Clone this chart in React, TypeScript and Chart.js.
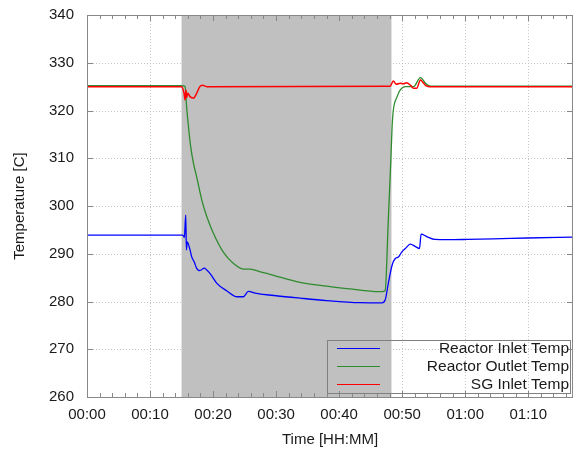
import React, { useEffect, useRef } from 'react';
import { Chart, registerables } from 'chart.js';

Chart.register(...registerables);

// Time in minutes
const inletTime = [0, 15.0, 15.2, 15.45, 15.66, 15.77, 15.9, 16.35, 16.6, 17.0, 17.4, 17.9, 18.6, 19.0, 19.5, 20.6, 22.2, 23.8, 24.8, 25.6, 26.9, 30, 33.8, 38, 43.3, 46.8, 47.3, 47.8, 48.4, 48.9, 49.4, 49.95, 50.5, 51.3, 52.1, 52.75, 53.0, 53.9, 55.2, 57.1, 60.3, 64.4, 69.8, 77.1];
const inletTemp = [293.9, 293.9, 293.9, 293.4, 298.1, 290.8, 292.5, 290.8, 289.4, 288.3, 286.95, 286.45, 287.0, 286.6, 285.9, 283.8, 282.2, 281.0, 281.0, 282.1, 281.7, 281.2, 280.7, 280.2, 279.75, 279.7, 280.3, 283.8, 287.6, 289.0, 289.3, 290.4, 291.1, 292.0, 291.5, 291.1, 294.1, 293.6, 293.0, 292.95, 293.0, 293.1, 293.3, 293.5];

const outletTime = [0, 15.0, 15.56, 15.8, 16.1, 16.45, 16.9, 17.4, 18.2, 19.0, 20.05, 21.6, 23.2, 24.8, 25.9, 27.5, 29.0, 33.8, 38, 43.3, 46.8, 47.3, 47.8, 48.2, 48.4, 48.6, 49.2, 49.7, 50.5, 51.8, 52.9, 53.7, 54.4, 60, 77.1];
const outletTemp = [325.2, 325.2, 325.0, 320.8, 316.6, 312.4, 308.9, 306.1, 301.3, 297.8, 294.3, 290.4, 288.0, 286.8, 286.8, 286.2, 285.7, 284.0, 283.2, 282.4, 282.05, 282.3, 297.1, 309.6, 316.6, 320.1, 322.9, 324.3, 325.0, 325.0, 326.9, 325.7, 325.1, 325.1, 325.1];

const sgTime = [0, 15.0, 15.4, 15.56, 15.7, 15.8, 16.0, 16.35, 16.9, 17.4, 17.9, 18.3, 19.0, 48.1, 48.6, 49.05, 49.7, 50.2, 50.7, 51.3, 51.8, 52.3, 52.9, 53.4, 53.9, 54.4, 77.1];
const sgTemp = [325, 325, 323.6, 322.2, 324.3, 322.7, 323.6, 322.9, 322.6, 323.6, 325.0, 325.3, 325.0, 325.1, 326.2, 325.5, 325.7, 325.6, 325.8, 325.3, 324.65, 324.65, 326.4, 325.7, 325.1, 325.0, 325.0];

const seriesLabels = ['Reactor Inlet Temp', 'Reactor Outlet Temp', 'SG Inlet Temp'];
const seriesColors = ['#0000ff', '#2e8b2e', '#ff0000'];

const X_MIN = 0;
const X_MAX = 77.1;
const Y_MIN = 260;
const Y_MAX = 340;
const Y_STEP = 10;
const X_MAJOR = 10;
const X_MINOR = 2;
const SHADE_START = 15;
const SHADE_END = 48.3;

const FONT = '"Liberation Sans", Arial, sans-serif';
const TEXT = '#1a1a1a';
const GRID = '#c4c4c4';

function pad2(n: number) {
  return (n < 10 ? '0' : '') + n;
}
function fmtTime(v: number) {
  const h = Math.floor(v / 60);
  const m = Math.round(v - h * 60);
  return pad2(h) + ':' + pad2(m);
}

function toPoints(t: number[], y: number[]) {
  return t.map((x, i) => ({ x, y: y[i] }));
}

const decorPlugin = {
  id: 'decor',
  beforeDatasetsDraw(chart: any) {
    const { ctx, chartArea } = chart;
    const { left, right, top, bottom } = chartArea;
    const xs = chart.scales.x;
    const ys = chart.scales.y;
    ctx.save();
    // dotted grid
    ctx.strokeStyle = GRID;
    ctx.lineWidth = 1;
    ctx.setLineDash([1, 2]);
    ctx.beginPath();
    xs.ticks.forEach((t: any) => {
      if (t.value % X_MAJOR !== 0) return;
      const px = Math.round(xs.getPixelForValue(t.value)) + 0.5;
      ctx.moveTo(px, top);
      ctx.lineTo(px, bottom);
    });
    ys.ticks.forEach((t: any) => {
      const py = Math.round(ys.getPixelForValue(t.value)) + 0.5;
      ctx.moveTo(left, py);
      ctx.lineTo(right, py);
    });
    ctx.stroke();
    ctx.setLineDash([]);
    // shaded interval
    const x0 = xs.getPixelForValue(SHADE_START);
    const x1 = xs.getPixelForValue(SHADE_END);
    ctx.fillStyle = '#c0c0c0';
    ctx.fillRect(x0, top, x1 - x0, bottom - top);
    ctx.restore();
  },
  afterDraw(chart: any) {
    const { ctx, chartArea } = chart;
    const { left, right, top, bottom } = chartArea;
    const xs = chart.scales.x;
    const ys = chart.scales.y;
    ctx.save();
    ctx.strokeStyle = '#888888';
    ctx.lineWidth = 1;
    // inward tick marks
    ctx.beginPath();
    xs.ticks.forEach((t: any) => {
      const px = Math.round(xs.getPixelForValue(t.value)) + 0.5;
      const len = t.value % X_MAJOR === 0 ? 6 : 4;
      ctx.moveTo(px, bottom);
      ctx.lineTo(px, bottom - len);
      ctx.moveTo(px, top);
      ctx.lineTo(px, top + len);
    });
    ys.ticks.forEach((t: any) => {
      const py = Math.round(ys.getPixelForValue(t.value)) + 0.5;
      ctx.moveTo(left, py);
      ctx.lineTo(left + 6, py);
      ctx.moveTo(right, py);
      ctx.lineTo(right - 6, py);
    });
    ctx.stroke();
    // frame
    ctx.strokeRect(Math.round(left) + 0.5, Math.round(top) + 0.5, Math.round(right - left) - 1, Math.round(bottom - top));

    // legend
    const bw = 243;
    const bh = 53;
    const bx = Math.round(right) - 3 - bw;
    const by = Math.round(bottom) - 4 - bh;
    ctx.strokeStyle = '#808080';
    ctx.strokeRect(bx + 0.5, by + 0.5, bw, bh);
    ctx.font = '15.5px ' + FONT;
    ctx.textAlign = 'right';
    ctx.textBaseline = 'middle';
    chart.data.datasets.forEach((ds: any, i: number) => {
      const cy = by + 8 + i * 18;
      ctx.strokeStyle = ds.borderColor;
      ctx.lineWidth = 1.2;
      ctx.beginPath();
      ctx.moveTo(bx + 10, cy + 0.5);
      ctx.lineTo(bx + 53, cy + 0.5);
      ctx.stroke();
      ctx.fillStyle = TEXT;
      ctx.fillText(ds.label, bx + bw - 1, cy + 1);
    });
    ctx.restore();
  },
};

export default function App() {
  const canvasRef = useRef<HTMLCanvasElement | null>(null);

  useEffect(() => {
    if (!canvasRef.current) return;
    const chart = new Chart(canvasRef.current, {
      type: 'line',
      data: {
        datasets: [
          {
            label: seriesLabels[0],
            data: toPoints(inletTime, inletTemp),
            borderColor: seriesColors[0],
            borderWidth: 1.3,
            pointRadius: 0,
            order: 2,
            cubicInterpolationMode: 'monotone',
          },
          {
            label: seriesLabels[1],
            data: toPoints(outletTime, outletTemp),
            borderColor: seriesColors[1],
            borderWidth: 1.3,
            pointRadius: 0,
            order: 1,
            cubicInterpolationMode: 'monotone',
          },
          {
            label: seriesLabels[2],
            data: toPoints(sgTime, sgTemp),
            borderColor: seriesColors[2],
            borderWidth: 1.5,
            pointRadius: 0,
            order: 0,
            cubicInterpolationMode: 'monotone',
          },
        ],
      },
      options: {
        animation: false,
        responsive: true,
        maintainAspectRatio: false,
        layout: { padding: { top: 15, right: 1, left: 0, bottom: 0 } },
        plugins: {
          legend: { display: false },
          tooltip: { enabled: false },
        },
        scales: {
          x: {
            type: 'linear',
            min: X_MIN,
            max: X_MAX,
            afterBuildTicks: (scale: any) => {
              const ticks = [];
              for (let v = X_MIN; v <= X_MAX; v += X_MINOR) ticks.push({ value: v });
              scale.ticks = ticks;
            },
            afterFit: (scale: any) => {
              scale.height = 53;
              scale.paddingLeft = 0;
              scale.paddingRight = 0;
            },
            ticks: {
              autoSkip: false,
              maxRotation: 0,
              padding: 9,
              color: TEXT,
              font: { family: FONT, size: 15 },
              callback: (v: any) => (Number(v) % X_MAJOR === 0 ? fmtTime(Number(v)) : ''),
            },
            grid: { display: false, drawTicks: false },
            border: { display: false },
            title: {
              display: true,
              text: 'Time [HH:MM]',
              color: TEXT,
              font: { family: FONT, size: 15 },
              padding: { top: 0, bottom: 1 },
            },
          },
          y: {
            type: 'linear',
            min: Y_MIN,
            max: Y_MAX,
            afterFit: (scale: any) => {
              scale.width = 87;
              scale.paddingTop = 0;
              scale.paddingBottom = 0;
            },
            ticks: {
              stepSize: Y_STEP,
              padding: 13,
              color: TEXT,
              font: { family: FONT, size: 15 },
            },
            grid: { display: false, drawTicks: false },
            border: { display: false },
            title: {
              display: true,
              text: 'Temperature [C]',
              color: TEXT,
              font: { family: FONT, size: 15 },
              padding: { top: 11, bottom: 0 },
            },
          },
        },
      },
      plugins: [decorPlugin],
    } as any);
    return () => chart.destroy();
  }, []);

  return (
    <div style={{ position: 'absolute', left: 0, top: 0, width: 574, height: 450, background: '#ffffff' }}>
      <canvas ref={canvasRef} />
    </div>
  );
}
